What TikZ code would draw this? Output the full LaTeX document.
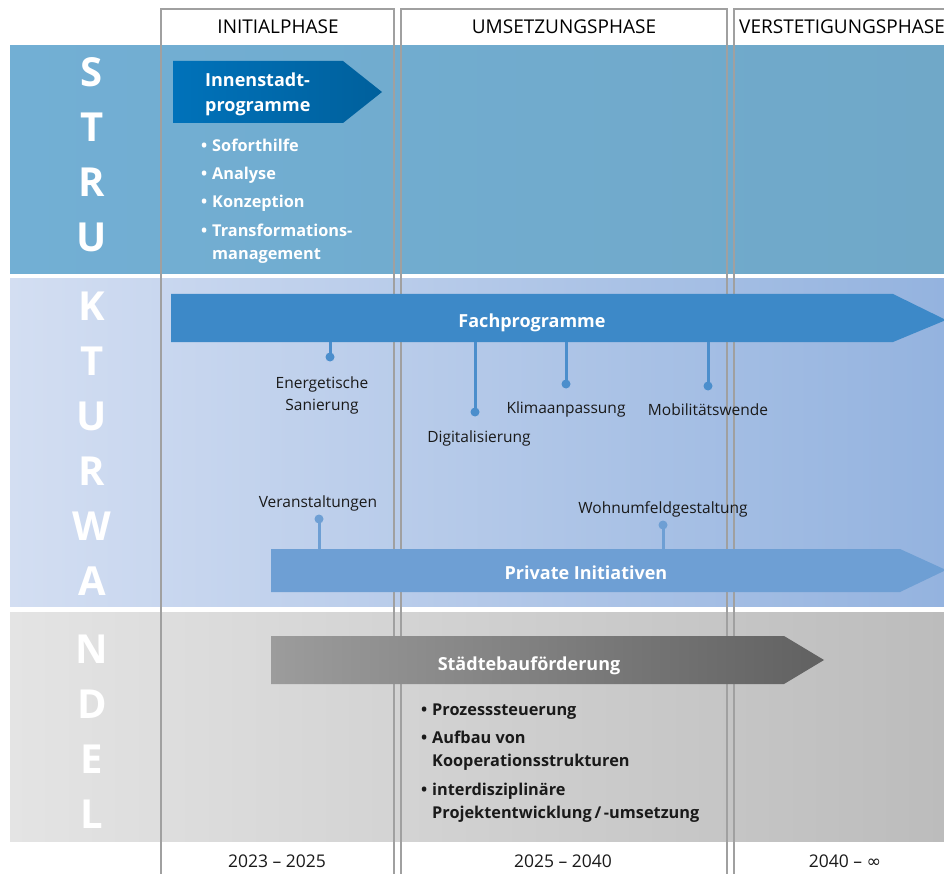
\documentclass[tikz,border=0pt]{standalone}
\usepackage{fontspec}
\setmainfont{Open Sans}
\newfontfamily\symfont{DejaVu Sans}
\definecolor{topL}{RGB}{114,175,212}
\definecolor{topR}{RGB}{112,168,200}
\definecolor{midL}{RGB}{211,222,242}
\definecolor{midR}{RGB}{148,179,223}
\definecolor{botL}{RGB}{228,228,228}
\definecolor{botR}{RGB}{188,188,188}
\definecolor{innL}{RGB}{0,114,186}
\definecolor{innR}{RGB}{0,96,156}
\definecolor{fachC}{RGB}{61,137,200}
\definecolor{fachPin}{RGB}{75,142,204}
\definecolor{privC}{RGB}{110,159,212}
\definecolor{stbL}{RGB}{156,156,156}
\definecolor{stbR}{RGB}{97,97,97}
\definecolor{frameC}{RGB}{160,160,160}
\definecolor{txtC}{RGB}{26,26,26}
\begin{document}
\begin{tikzpicture}[x=1pt,y=-1pt,
  lbl/.style={font=\fontsize{15.5}{18}\selectfont, text=txtC, inner sep=0pt, anchor=base},
  hdr/.style={font=\fontsize{19}{22}\selectfont, text=black, inner sep=0pt, anchor=base},
  yr/.style={font=\fontsize{17.5}{20}\selectfont, text=txtC, inner sep=0pt, anchor=base},
  bigletter/.style={font=\fontsize{40}{40}\selectfont\bfseries, text=white, inner sep=0pt, anchor=base},
  arrtxt/.style={font=\fontsize{18}{22}\selectfont\bfseries, text=white, inner sep=0pt, anchor=base},
  bulw/.style={font=\fontsize{16.3}{20}\selectfont\bfseries, text=white, inner sep=0pt, anchor=base west},
  bulk/.style={font=\fontsize{16.3}{20}\selectfont\bfseries, text=txtC, inner sep=0pt, anchor=base west},
  pindot/.style={circle, fill=#1, minimum size=9pt, inner sep=0pt},
  pinline/.style={line width=3pt, draw=#1},
  framebox/.style={draw=frameC, line width=1.5pt},
]
\useasboundingbox (0,0) rectangle (944,874);
\clip (0,0) rectangle (944,874);

% bands
\shade[left color=topL, right color=topR] (10,46) rectangle (944,274);
\shade[left color=midL, right color=midR] (10,279) rectangle (944,606);
\shade[left color=botL, right color=botR] (10,612) rectangle (944,841);

% column frames
\draw[framebox] (161,874) -- (161,9) -- (394,9) -- (394,874);
\draw[framebox] (401,874) -- (401,9) -- (727,9) -- (727,874);
\draw[framebox] (734,874) -- (734,9) -- (950,9);

% headers
\node[hdr] (h1) at (278,34) {INITIALPHASE};
\node[hdr] (h2) at (564,34) {UMSETZUNGSPHASE};
\node[hdr, anchor=base west] (h3) at (739,34) {VERSTETIGUNGSPHASE};

% years
\node[yr] (y1) at (277,867) {2023 – 2025};
\node[yr] (y2) at (563,867) {2025 – 2040};
\node[yr] (y3) at (845,867) {2040 – {\symfont ∞}};

% big letters
\foreach \c/\b [count=\i] in {S/87,T/142,R/197,U/252,K/320,T/375,U/430,R/485,W/540,A/595,N/663,D/718,E/773,L/828}
  \node[bigletter] (L\i) at (92,\b) {\c};

% Innenstadt arrow
\shade[left color=innL, right color=innR] (173,61) -- (343,61) -- (382,92) -- (343,123) -- (173,123) -- cycle;
\node[arrtxt, anchor=base west] (inn1) at (205,87) {Innenstadt-};
\node[arrtxt, anchor=base west] (inn2) at (205,112) {programme};
\node[bulw] (b1) at (201,152) {\makebox[11pt][l]{•}Soforthilfe};
\node[bulw] (b2) at (201,180) {\makebox[11pt][l]{•}Analyse};
\node[bulw] (b3) at (201,208) {\makebox[11pt][l]{•}Konzeption};
\node[bulw] (b4) at (201,237) {\makebox[11pt][l]{•}Transformations-};
\node[bulw] (b5) at (212,260) {management};

% Fachprogramme arrow
\fill[fachC] (171,294) -- (893,294) -- (946,320) -- (893,342) -- (171,342) -- cycle;
\node[arrtxt] (fach) at (532,327) {Fachprogramme};
\coordinate (f1) at (330,342);
\coordinate (f2) at (475,342);
\coordinate (f3) at (566,342);
\coordinate (f4) at (708,342);
\node[pindot=fachPin] (d1) at (330,357) {};
\node[pindot=fachPin] (d2) at (475,412) {};
\node[pindot=fachPin] (d3) at (566,384) {};
\node[pindot=fachPin] (d4) at (708,386) {};
\draw[pinline=fachPin] (f1) -- (d1.center);
\draw[pinline=fachPin] (f2) -- (d2.center);
\draw[pinline=fachPin] (f3) -- (d3.center);
\draw[pinline=fachPin] (f4) -- (d4.center);
\node[lbl] (t1a) at (322,388) {Energetische};
\node[lbl] (t1b) at (322,410) {Sanierung};
\node[lbl] (t2) at (479,442) {Digitalisierung};
\node[lbl] (t3) at (566,413) {Klimaanpassung};
\node[lbl] (t4) at (708,415) {Mobilitätswende};

% Private Initiativen arrow
\fill[privC] (271,549) -- (900,549) -- (946,570) -- (900,592) -- (271,592) -- cycle;
\node[arrtxt] (priv) at (586,579) {Private Initiativen};
\coordinate (p1) at (319,549);
\coordinate (p2) at (663,549);
\node[pindot=privC] (e1) at (319,519) {};
\node[pindot=privC] (e2) at (663,525) {};
\draw[pinline=privC] (p1) -- (e1.center);
\draw[pinline=privC] (p2) -- (e2.center);
\node[lbl] (v1) at (318,507) {Veranstaltungen};
\node[lbl] (v2) at (663,513) {Wohnumfeldgestaltung};

% Staedtebaufoerderung arrow
\shade[left color=stbL, right color=stbR] (271,636) -- (784,636) -- (824,660) -- (784,684) -- (271,684) -- cycle;
\node[arrtxt] (stb) at (529,670) {Städtebauförderung};
\node[bulk] (c1) at (421,715) {\makebox[11pt][l]{•}Prozesssteuerung};
\node[bulk] (c2) at (421,743) {\makebox[11pt][l]{•}Aufbau von};
\node[bulk] (c3) at (432,766) {Kooperationsstrukturen};
\node[bulk] (c4) at (421,795) {\makebox[11pt][l]{•}interdisziplinäre};
\node[bulk] (c5) at (432,818) {Projektentwicklung\,/\,-umsetzung};
\end{tikzpicture}
\end{document}
